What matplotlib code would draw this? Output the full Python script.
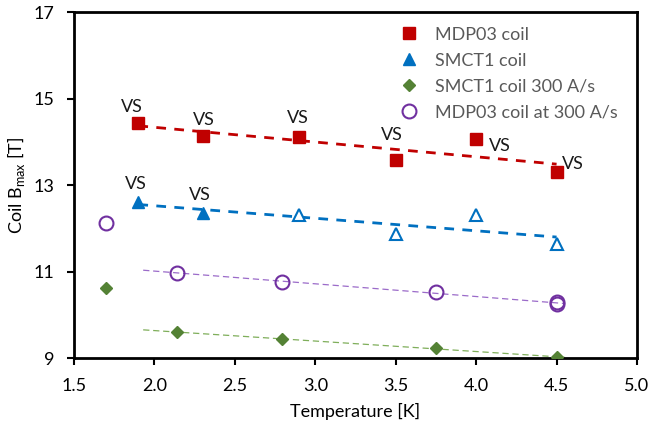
"""Coil Bmax vs. temperature for MDP03 and SMCT1 coils."""

import matplotlib.pyplot as plt
import numpy as np

plt.rcParams['font.family'] = ['Lato', 'DejaVu Sans']

# MDP03 coil (filled squares)
mdp_t = [1.9, 2.3, 2.9, 3.5, 4.0, 4.5]
mdp_b = [14.43, 14.13, 14.11, 13.57, 14.06, 13.30]

# SMCT1 coil: filled triangles (VS) and open triangles
smct_t_vs = [1.9, 2.3]
smct_b_vs = [12.61, 12.35]
smct_t_open = [2.9, 3.5, 4.0, 4.5]
smct_b_open = [12.31, 11.87, 12.30, 11.64]

# SMCT1 coil 300 A/s (diamonds)
smct300_t = [1.7, 2.14, 2.79, 3.75, 4.5]
smct300_b = [10.62, 9.60, 9.44, 9.23, 9.02]

# MDP03 coil at 300 A/s (open circles)
mdp300_t = [1.7, 2.14, 2.79, 3.75, 4.5, 4.5]
mdp300_b = [12.12, 10.97, 10.77, 10.52, 10.29, 10.25]

RED = '#C00000'
BLUE = '#0070C0'
GREEN = '#548235'
PURPLE = '#7030A0'


def trend(ax, t, b, x0, x1, **kw):
    k, c = np.polyfit(t, b, 1)
    xs = np.array([x0, x1])
    ax.plot(xs, k * xs + c, zorder=1, **kw)


fig = plt.figure(figsize=(6.52, 4.33), dpi=100)
ax = fig.add_axes([0.1135, 0.173, 0.8635, 0.799])

trend(ax, mdp_t, mdp_b, 1.9, 4.5, color=RED, lw=2, ls=(0, (3.5, 3)))
trend(ax, smct_t_vs + smct_t_open, smct_b_vs + smct_b_open, 1.9, 4.5,
      color=BLUE, lw=2, ls=(0, (3.5, 3)))
trend(ax, mdp300_t[1:], mdp300_b[1:], 1.93, 4.55,
      color='#9B6BC9', lw=0.9, ls=(0, (5, 3)))
trend(ax, smct300_t[1:], smct300_b[1:], 1.93, 4.55,
      color='#7FAE5A', lw=0.9, ls=(0, (5, 3)))

ax.plot(mdp_t, mdp_b, 's', color=RED, ms=9, ls='none', label='MDP03 coil', zorder=3)
ax.plot(smct_t_vs, smct_b_vs, '^', color=BLUE, ms=9, ls='none', label='SMCT1 coil', zorder=3)
ax.plot(smct_t_open, smct_b_open, '^', mfc='white', mec=BLUE, mew=1.5, ms=9,
        ls='none', zorder=3)
ax.plot(smct300_t, smct300_b, 'D', color=GREEN, ms=6.5, ls='none',
        label='SMCT1 coil 300 A/s', zorder=3)
ax.plot(mdp300_t, mdp300_b, 'o', mfc='none', mec=PURPLE, mew=1.5, ms=10,
        ls='none', label='MDP03 coil at 300 A/s', zorder=3)

# "VS" annotations: offsets in points from the marker
vs_red = [(-5, 12), (1, 12), (-1, 14), (-3, 18), (17, -5), (12, 6)]
for t, b, (dx, dy) in zip(mdp_t, mdp_b, vs_red):
    ax.annotate('VS', (t, b), xytext=(dx, dy), textcoords='offset points',
                ha='center', va='center', fontsize=13, color='#1a1a1a')
vs_blue = [(-2, 13), (-2, 13)]
for t, b, (dx, dy) in zip(smct_t_vs, smct_b_vs, vs_blue):
    ax.annotate('VS', (t, b), xytext=(dx, dy), textcoords='offset points',
                ha='center', va='center', fontsize=13, color='#1a1a1a')

ax.set_xlim(1.5, 5.0)
ax.set_ylim(9, 17)
ax.set_xticks(np.arange(1.5, 5.01, 0.5))
ax.set_xticklabels([f'{v:.1f}' for v in np.arange(1.5, 5.01, 0.5)])
ax.set_yticks([9, 11, 13, 15, 17])
ax.tick_params(direction='out', length=5, width=1.5, labelsize=13, colors='black')
ax.tick_params(axis='x', pad=9)
ax.tick_params(axis='y', pad=9)
for s in ax.spines.values():
    s.set_linewidth(2)
ax.set_xlabel('Temperature [K]', fontsize=13, labelpad=7)
ax.set_ylabel('Coil B$_{\\mathregular{max}}$ [T]', fontsize=13, labelpad=5)

ax.legend(loc='upper right', bbox_to_anchor=(0.995, 1.005), frameon=False, fontsize=13,
          labelcolor='#595959', handletextpad=0.7, labelspacing=0.55,
          handlelength=1.5)

fig.savefig('out.png', dpi=100)
